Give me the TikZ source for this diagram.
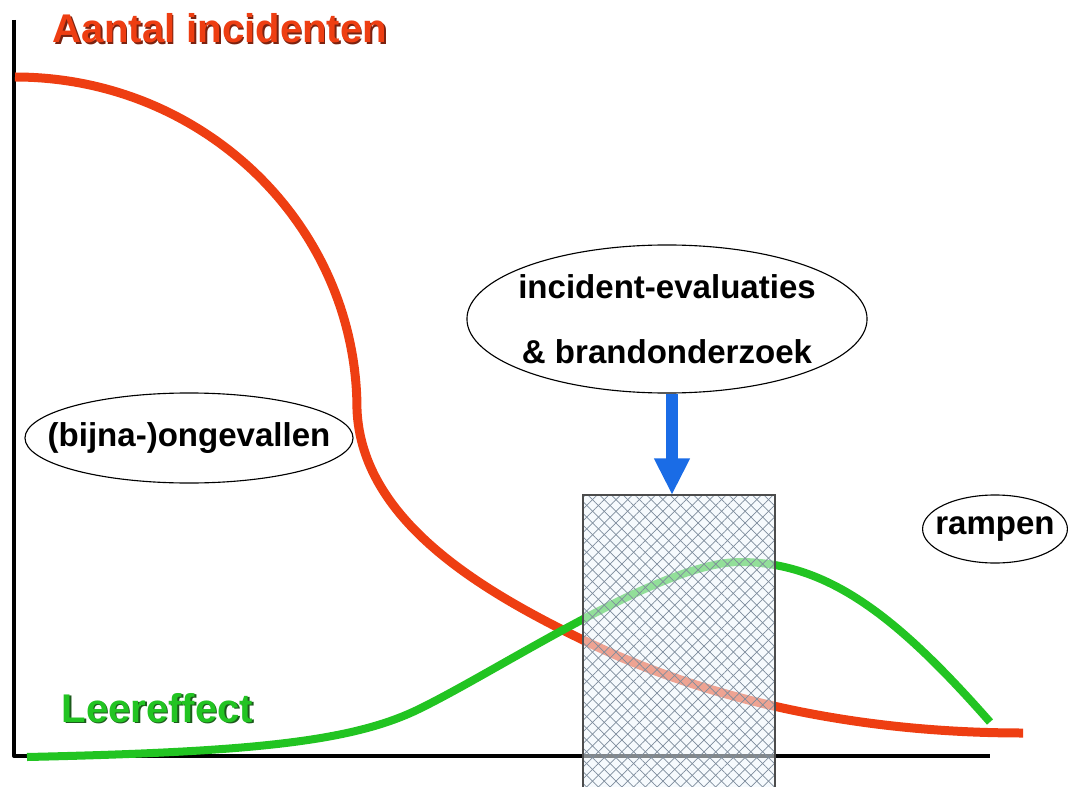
\documentclass[tikz,border=0pt]{standalone}
\usepackage{fontspec}
\setmainfont{Liberation Sans}
\usetikzlibrary{shapes.geometric,arrows.meta,patterns.meta}
\definecolor{incred}{HTML}{EE3E12}
\definecolor{incshadow}{HTML}{7A2210}
\definecolor{leergreen}{HTML}{22C422}
\definecolor{leershadow}{HTML}{1C5A1C}
\definecolor{evalblue}{HTML}{1A6CE6}
\definecolor{hatchgray}{HTML}{7E8C9C}
\definecolor{boxfill}{HTML}{EEF6FC}

\begin{document}
\begin{tikzpicture}[x=0.025cm,y=-0.025cm,
  bubble/.style={draw,ellipse,line width=.8pt,inner xsep=-60pt,inner ysep=-40pt,
    align=center,font=\fontsize{23.5}{46}\selectfont\bfseries},
  title/.style={anchor=base,font=\fontsize{28.5}{30}\selectfont\bfseries},
  axis/.style={line width=2.8pt,line join=round},
  hatch/.style={pattern={Lines[angle=#1,distance=5.9pt,line width=.5pt]},pattern color=hatchgray}]
\useasboundingbox (0,0) rectangle (1084,787);

% ellipses
\node[bubble,minimum width=10cm,minimum height=3.7cm] (eval) at (667,319)
  {incident-evaluaties\\\& brandonderzoek};
\node[bubble,minimum width=8.2cm,minimum height=2.25cm] (bijna) at (189,438) {(bijna-)ongevallen};
\node[bubble,minimum width=3.62cm,minimum height=1.7cm] (rampen) at (995,529) {rampen};

% axes
\draw[axis] (14,20) -- (14,756) -- (990,756);

% curves
\draw[incred,line width=6.4pt] (15,77) .. controls (204,77) and (357,226) .. (357,410)
  .. controls (362,520) and (480,590) .. (583,640)
  .. controls (700,697) and (850,733) .. (1023,733);
\draw[leergreen,line width=5.7pt] (27,757) .. controls (250,752) and (350,742) .. (417,710)
  .. controls (500,670) and (660,562) .. (740,562)
  .. controls (830,562) and (900,620) .. (990,722);

% hatched box
\fill[boxfill,opacity=.55] (583,495) rectangle (775,800);
\fill[hatch=45] (583,495) rectangle (775,800);
\fill[hatch=-45] (583,495) rectangle (775,800);
\draw[line width=1.1pt,draw=black!70] (583,800) -- (583,495) -- (775,495) -- (775,800);
\coordinate (boxtop) at (672,495);

\draw[evalblue,line width=8.5pt,-{Triangle[width=23.7pt,length=26pt]}] (eval.south -| boxtop) -- (boxtop);

% titles
\node[title,text=incshadow] (aantal-sh) at (221.5,44.5) {Aantal incidenten};
\node[title,text=incred] (aantal) at (220,43) {Aantal incidenten};
\node[title,text=leershadow] (leer-sh) at (159,723.5) {Leereffect};
\node[title,text=leergreen] (leer) at (157.5,722) {Leereffect};
\end{tikzpicture}
\end{document}
